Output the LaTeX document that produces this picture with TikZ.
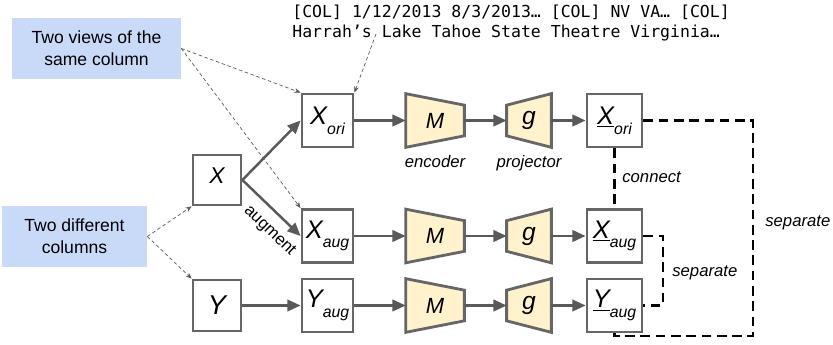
\documentclass[tikz,border=0pt]{standalone}
\usepackage{fontspec}
\setmainfont{Liberation Sans}
\newfontfamily\codefont{DejaVu Sans Mono}
\usetikzlibrary{arrows.meta,backgrounds,positioning}

\definecolor{notebl}{HTML}{C9DAF8}
\definecolor{modelyl}{HTML}{FFF2CC}
\definecolor{edgegr}{HTML}{666666}
\definecolor{flowgr}{HTML}{595959}

% column variable with a lowered subscript: size, name, subscript
\newcommand{\colvar}[3]{{\fontsize{#1}{#1}\selectfont\itshape #2}\raisebox{-5.5pt}{\fontsize{9}{9}\selectfont\itshape #3}}

\tikzset{
  colbox/.style={draw=edgegr, line width=1.6pt, fill=white, inner sep=0pt},
  inbox/.style={colbox, minimum width=0.96cm, minimum height=1.0cm},
  viewbox/.style={colbox, minimum width=1.02cm, minimum height=1.06cm},
  outbox/.style={colbox, minimum width=1.1cm, minimum height=1.06cm},
  encbox/.style={inner sep=0pt, minimum width=1.16cm, minimum height=1.06cm, font=\fontsize{12.5}{12.5}\selectfont\itshape},
  projbox/.style={inner sep=0pt, minimum width=0.88cm, minimum height=1.06cm, font=\fontsize{14}{14}\selectfont\itshape},
  trap/.style={draw=edgegr, line width=1.6pt, fill=modelyl, line join=miter},
  note/.style={fill=notebl, align=center, inner sep=0pt, font=\fontsize{10}{12.5}\selectfont},
  tag/.style={inner sep=0pt, font=\fontsize{9.5}{11}\selectfont\itshape},
  flow/.style={draw=flowgr, line width=1.4pt, -{Triangle[length=7.5pt,width=6.5pt]}},
  hint/.style={draw=flowgr, line width=0.4pt, dash pattern=on 2pt off 1.5pt, -{Stealth[length=3.5pt,width=2.8pt]}},
  link/.style={draw=black, line width=1.6pt, dash pattern=on 5.5pt off 3.2pt}
}

\begin{document}
\begin{tikzpicture}[x=0.02cm, y=0.02cm]
  \useasboundingbox (0,0) rectangle (833,345);

  % inputs and their augmented views
  \node[inbox] (X) at (217,165) {\colvar{13}{X}{}};
  \node[inbox, minimum height=1.02cm] (Y) at (217,39.5) {\fontsize{15.5}{15.5}\selectfont\itshape Y};
  \node[viewbox] (Xori) at (327.5,224.5) {\colvar{14.5}{X}{ori}};
  \node[viewbox] (Xaug) at (327.5,109) {\colvar{14.5}{X}{aug}};
  \node[viewbox] (Yaug) at (327.5,39.5) {\colvar{14.5}{Y}{aug}};

  % encoder M and projector g for each row
  \node[encbox] (M1) at (435,224.5) {M};
  \node[encbox] (M2) at (435,109) {M};
  \node[encbox] (M3) at (435,39.5) {M};
  \node[projbox] (g1) at (529,224.5) {g};
  \node[projbox] (g2) at (529,109) {g};
  \node[projbox] (g3) at (529,39.5) {g};
  \begin{scope}[on background layer]
    \foreach \m in {M1,M2,M3}
      \draw[trap] (\m.north west) -- ([yshift=-0.23cm]\m.north east)
        -- ([yshift=0.23cm]\m.south east) -- (\m.south west) -- cycle;
    \foreach \p in {g1,g2,g3}
      \draw[trap] ([yshift=-0.23cm]\p.north west) -- (\p.north east)
        -- (\p.south east) -- ([yshift=0.23cm]\p.south west) -- cycle;
  \end{scope}
  \node[tag, below=0.16cm of M1] (enctag) {encoder};
  \node[tag, below=0.16cm of g1] (projtag) {projector};

  % embeddings
  \node[outbox] (Zori) at (614.5,224.5) {\colvar{14.5}{\underline{X}}{ori}};
  \node[outbox] (Zaug) at (614.5,109) {\colvar{14.5}{\underline{X}}{aug}};
  \node[outbox] (Zyaug) at (614.5,39.5) {\colvar{14.5}{\underline{Y}}{aug}};

  % notes
  \node[note, minimum width=3.38cm, minimum height=1.22cm] (views) at (96.5,296.5)
    {Two views of the\\same column};
  \node[note, minimum width=2.9cm, minimum height=1.22cm] (diffs) at (74.5,108.5)
    {Two different\\columns};
  \node[anchor=north west, inner sep=0pt, align=left,
        font=\codefont\fontsize{9.4}{11.4}\selectfont] (sample) at (292,340)
    {[COL] 1/12/2013 8/3/2013… [COL] NV VA… [COL]\\Harrah’s Lake Tahoe State Theatre Virginia…};
  \coordinate (lake) at (376,311);

  % main flow
  \draw[flow] (X.east) -- (Xori.west);
  \draw[flow] (X.east) -- node[tag, font=\fontsize{9.5}{11}\selectfont, sloped, pos=0.68, below=5.5pt] (augtag) {augment} (Xaug.west);
  \draw[flow] (Y) -- (Yaug);
  \foreach \v/\m/\p/\z in {Xori/M1/g1/Zori, Xaug/M2/g2/Zaug, Yaug/M3/g3/Zyaug} {
    \draw[flow] (\v) -- (\m);
    \draw[flow] (\m) -- (\p);
    \draw[flow] (\p) -- (\z);
  }

  % pointers from the notes
  \draw[hint] (views.east) -- (Xori.north west);
  \draw[hint] (views.east) -- (Xaug.north west);
  \draw[hint] (diffs.east) -- (X.south west);
  \draw[hint] (diffs.east) -- (Y.north west);
  \draw[hint] (lake) -- (Xori.north east);

  % contrastive pairs
  \coordinate (nearcorner) at (663,39.5);
  \coordinate (farcorner) at (753,9);
  \draw[link] (Zori.south) -- (Zaug.north);
  \draw[link] (Zaug.east) -| (nearcorner) -- (Zyaug.east);
  \draw[link] (Zori.east) -| (farcorner) -| (Zyaug.south);
  \node[tag, anchor=west] (conntag) at (622,168) {connect};
  \node[tag, anchor=west] (septag) at (672,72) {separate};
  \node[tag, anchor=west] (fartag) at (765,122) {separate};
\end{tikzpicture}
\end{document}
